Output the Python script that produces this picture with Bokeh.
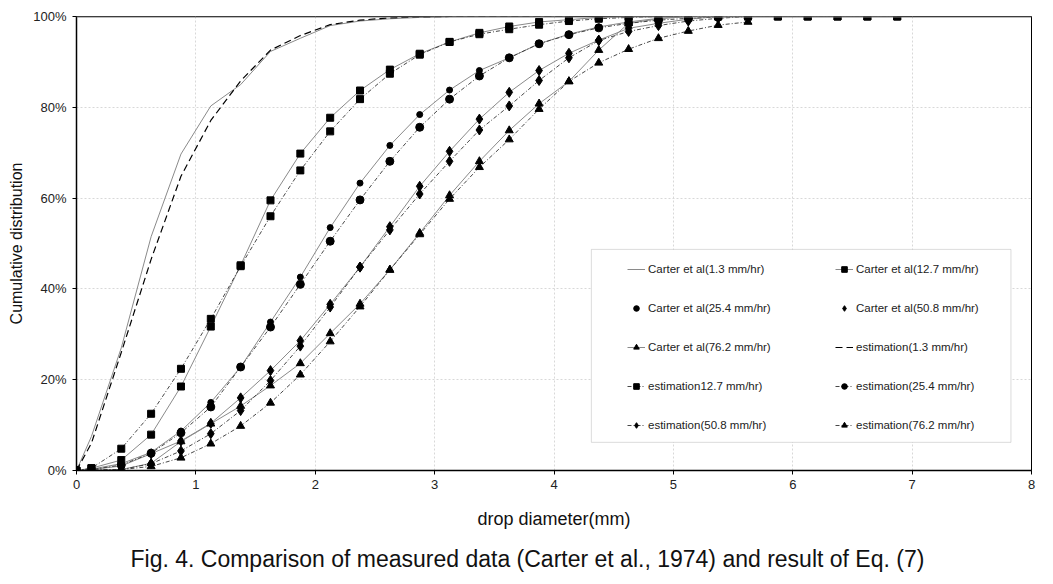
from bokeh.plotting import figure
from bokeh.models import (Legend, LegendItem, Span, BoxAnnotation, Title, FixedTicker,
                          PrintfTickFormatter, Range1d)
from bokeh.embed import file_html
from bokeh.resources import INLINE

# ---------------- data (drop diameter in mm, cumulative distribution in %) ----------------
x_mm = [0, 0.125, 0.375, 0.625, 0.875, 1.125, 1.375, 1.625, 1.875, 2.125, 2.375, 2.625,
        2.875, 3.125, 3.375, 3.625, 3.875, 4.125, 4.375, 4.625, 4.875, 5.125, 5.375, 5.625,
        5.875, 6.125, 6.375, 6.625, 6.875]

carter_1_3 = [0, 7.5, 27.0, 51.5, 69.7, 80.3, 85.0, 92.3, 95.2, 98.0, 99.0, 99.5, 99.8, 100, 100, 100, 100, 100]
carter_12_7 = [0, 0.5, 2.3, 7.9, 18.5, 31.7, 45.2, 59.5, 69.8, 77.7, 83.7, 88.3, 91.8, 94.4,
               96.4, 97.8, 98.8, 99.3, 99.8, 100, 100, 100, 100, 100, 100, 100, 100, 100, 100]
carter_25_4 = [0, 0.3, 1.5, 4.0, 8.7, 15.0, 22.8, 32.7, 42.6, 53.5, 63.3, 71.6, 78.4, 83.8,
               88.1, 90.9, 94.0, 96.1, 97.7, 98.8, 99.6, 100, 100, 100]
carter_50_8 = [0, 0.2, 1.0, 3.7, 6.5, 10.4, 16.0, 22.0, 28.6, 36.6, 44.8, 53.7, 62.6, 70.3,
               77.4, 83.3, 88.1, 91.9, 94.8, 97.4, 98.5, 99.4, 100, 100]
carter_76_2 = [0, 0.1, 0.2, 1.6, 6.4, 10.3, 14.2, 18.7, 23.6, 30.2, 36.7, 44.2, 52.3, 60.6,
               68.1, 74.9, 80.8, 85.7, 92.6, 98.5, 99.5, 100, 100, 100]

est_1_3 = [0, 6.0, 26.0, 46.5, 64.8, 77.1, 85.8, 92.6, 95.8, 98.2, 99.2, 99.7, 99.9, 100, 100, 100, 100, 100]
est_12_7 = [0, 0.5, 4.8, 12.5, 22.4, 33.4, 45.0, 56.0, 66.1, 74.7, 81.8, 87.4, 91.6, 94.4,
            96.1, 97.2, 98.2, 99.0, 99.5, 99.8, 100, 100, 100, 100, 100, 100, 100, 100, 100]
est_25_4 = [0, 0.2, 1.2, 3.8, 8.3, 14.0, 22.8, 31.6, 41.0, 50.5, 59.6, 68.1, 75.6, 81.8,
            86.9, 90.9, 94.0, 96.0, 97.5, 98.5, 99.2, 99.6, 99.9, 100]
est_50_8 = [0, 0.1, 0.2, 1.5, 4.3, 8.1, 13.2, 19.8, 27.4, 36.0, 44.8, 53.0, 60.9, 68.1,
            75.0, 80.3, 85.9, 90.9, 94.7, 96.7, 98.0, 99.0, 99.6, 100]
est_76_2 = [0, 0.05, 0.2, 0.9, 2.8, 5.9, 9.8, 14.9, 21.1, 28.4, 36.1, 44.2, 52.0, 59.8,
            66.8, 72.9, 79.6, 85.7, 89.8, 92.8, 95.2, 96.8, 98.1, 98.8]

x_ticks = [0, 1, 2, 3, 4, 5, 6, 7, 8]
y_ticks = [0, 20, 40, 60, 80, 100]

labels = {
    "c13": "Carter et al(1.3 mm/hr)", "c127": "Carter et al(12.7 mm/hr)",
    "c254": "Carter et al(25.4 mm/hr)", "c508": "Carter et al(50.8 mm/hr)",
    "c762": "Carter et al(76.2 mm/hr)", "e13": "estimation(1.3 mm/hr)",
    "e127": "estimation12.7 mm/hr)", "e254": "estimation(25.4 mm/hr)",
    "e508": "estimation(50.8 mm/hr)", "e762": "estimation(76.2 mm/hr)",
}
caption = "Fig. 4. Comparison of measured data (Carter et al., 1974) and result of Eq. (7)"

FONT = "Liberation Sans"

p = figure(width=1045, height=584, output_backend="svg", toolbar_location=None,
           x_range=Range1d(0, 8), y_range=Range1d(0, 100),
           min_border_left=76, min_border_right=14, min_border_top=16, min_border_bottom=114)
p.background_fill_color = "white"
p.border_fill_color = "white"
p.outline_line_color = "black"
p.outline_line_width = 1

# grid
for g in (p.xgrid, p.ygrid):
    g.grid_line_color = "#d8d8d8"
    g.grid_line_dash = "2 2"
    g.grid_line_width = 1
p.xaxis.ticker = FixedTicker(ticks=x_ticks)
p.yaxis.ticker = FixedTicker(ticks=y_ticks)
p.xgrid.ticker = FixedTicker(ticks=x_ticks)
p.ygrid.ticker = FixedTicker(ticks=y_ticks)
p.yaxis.formatter = PrintfTickFormatter(format="%d%%")

for ax in (p.xaxis, p.yaxis):
    ax.axis_line_color = "black"
    ax.axis_line_width = 1.5
    ax.major_tick_out = 4
    ax.major_tick_in = 0
    ax.minor_tick_line_color = None
    ax.major_label_text_font = FONT
    ax.major_label_text_font_size = "13px"
    ax.major_label_text_color = "#222222"
    ax.axis_label_text_font = FONT
    ax.axis_label_text_font_style = "normal"
    ax.axis_label_text_color = "#111111"
p.xaxis.axis_label_text_font_size = "18px"
p.yaxis.axis_label_text_font_size = "16px"
p.xaxis.major_label_standoff = 5
p.yaxis.major_label_standoff = 6
p.xaxis.axis_label = "drop diameter(mm)"
p.yaxis.axis_label = "Cumulative distribution"
p.xaxis.axis_label_standoff = 17
p.yaxis.axis_label_standoff = 5

p.add_layout(Span(location=100, dimension="width", line_color="#7a7a7a", line_width=2))

CARTER_LINE = "#8a8a8a"
EST_LINE = "#333333"

def series(xs, ys, marker, size, carter):
    n = len(ys)
    xx = xs[:n]
    if carter:
        ln = p.line(xx, ys, line_color=CARTER_LINE, line_width=1)
    else:
        ln = p.line(xx, ys, line_color=EST_LINE, line_width=0.9, line_dash="4 2 1 2")
    sc = p.scatter(xx, ys, marker=marker, size=size,
                   fill_color="black", line_color="black")
    return ln, sc

r_c13 = p.line(x_mm[:len(carter_1_3)], carter_1_3, line_color=CARTER_LINE, line_width=1)
r_c127 = series(x_mm, carter_12_7, "square", 7, True)
r_c254 = series(x_mm, carter_25_4, "circle", 6, True)
r_c508 = series(x_mm, carter_50_8, "diamond", 10, True)
r_c762 = series(x_mm, carter_76_2, "triangle", 8, True)
r_e13 = p.line(x_mm[:len(est_1_3)], est_1_3, line_color="black", line_width=1.2, line_dash="7 4")
r_e254 = series(x_mm, est_25_4, "circle", 8, False)
r_e508 = series(x_mm, est_50_8, "diamond", 10, False)
r_e762 = series(x_mm, est_76_2, "triangle", 8, False)
r_e127 = series(x_mm, est_12_7, "square", 7, False)

# legend frame
p.add_layout(BoxAnnotation(left=4.313, right=7.828, bottom=6.2, top=48.7,
                           fill_color="white", fill_alpha=1,
                           line_color="#8c8c8c", line_width=1, level="annotation"))

def mk_legend(items, loc):
    lg = Legend(items=items, location=loc, orientation="vertical",
                label_text_font=FONT, label_text_font_size="11.5px", label_text_color="#222222",
                background_fill_alpha=0, border_line_color=None, padding=0, margin=0,
                spacing=25, glyph_width=18, glyph_height=14, label_height=14, label_standoff=3)
    p.add_layout(lg)
    return lg

mk_legend([
    LegendItem(label=labels["c13"], renderers=[r_c13]),
    LegendItem(label=labels["c254"], renderers=[r_c254[1]]),
    LegendItem(label=labels["c762"], renderers=list(r_c762)),
    LegendItem(label=labels["e127"], renderers=list(r_e127)),
    LegendItem(label=labels["e508"], renderers=list(r_e508)),
], (551, 38))
mk_legend([
    LegendItem(label=labels["c127"], renderers=list(r_c127)),
    LegendItem(label=labels["c508"], renderers=[r_c508[1]]),
    LegendItem(label=labels["e13"], renderers=[r_e13]),
    LegendItem(label=labels["e254"], renderers=list(r_e254)),
    LegendItem(label=labels["e762"], renderers=list(r_e762)),
], (759, 38))

p.add_layout(Title(text=caption, align="left", text_font=FONT, text_font_size="23px",
                   text_font_style="normal", text_color="#111111", standoff=24, offset=54),
             "below")

open("out.html", "w").write(file_html(p, INLINE))
